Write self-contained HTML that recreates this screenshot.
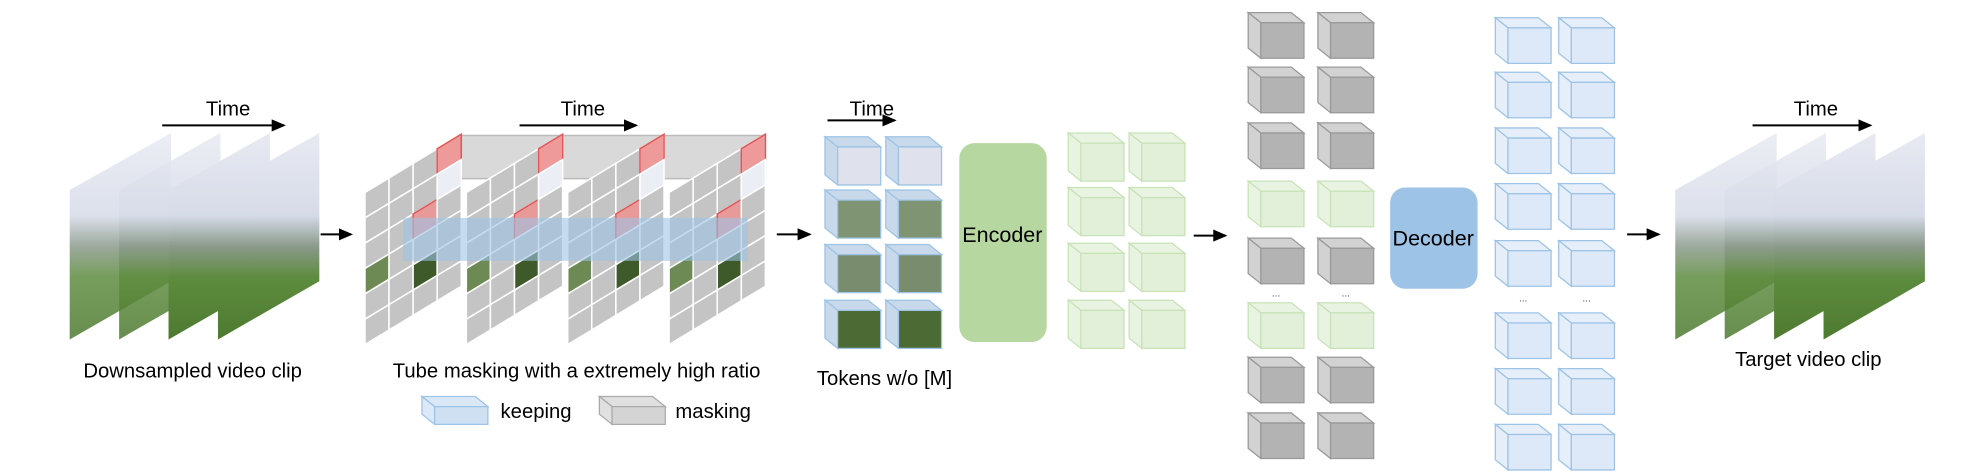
<!DOCTYPE html>
<html><head><meta charset="utf-8"><style>
body{margin:0;background:#fff;}
svg{display:block;font-family:"Liberation Sans",sans-serif;}
</style></head><body>
<svg id="s" width="1987" height="475" viewBox="0 0 1568 375" preserveAspectRatio="none" xmlns="http://www.w3.org/2000/svg">
<defs>
<linearGradient id="fr" x1="0" y1="0" x2="0" y2="1">
<stop offset="0" stop-color="#e8eaf2"/><stop offset="0.4" stop-color="#d6dbe8"/><stop offset="0.55" stop-color="#8a9a8a"/><stop offset="0.7" stop-color="#5e8c3e"/><stop offset="1" stop-color="#4d7a30"/>
</linearGradient>
<marker id="ah" markerWidth="8" markerHeight="8" refX="6" refY="4" orient="auto"><path d="M0,1 L7,4 L0,7 z" fill="#000"/></marker>
</defs>
<g id="g"></g>
<g font-size="16" fill="#000">
<text x="180" y="91" text-anchor="middle">Time</text>
<text x="460" y="91" text-anchor="middle">Time</text>
<text x="688" y="91" text-anchor="middle">Time</text>
<text x="1433" y="91" text-anchor="middle">Time</text>
<text x="152" y="298" text-anchor="middle">Downsampled video clip</text>
<text x="455" y="298" text-anchor="middle">Tube masking with a extremely high ratio</text>
<text x="698" y="304" text-anchor="middle">Tokens w/o [M]</text>
<text x="1427" y="289" text-anchor="middle">Target video clip</text>
<text x="395" y="330">keeping</text>
<text x="533" y="330">masking</text>
</g>
<g font-size="8" fill="#444" text-anchor="middle">
<text x="1007" y="234">...</text><text x="1062" y="234">...</text>
<text x="1202" y="238">...</text><text x="1252" y="238">...</text>
</g>
<g stroke="#000" stroke-width="1.6" marker-end="url(#ah)">
<line x1="128" y1="99" x2="224" y2="99"/>
<line x1="410" y1="99" x2="502" y2="99"/>
<line x1="653" y1="95" x2="706" y2="95"/>
<line x1="1383" y1="99" x2="1476" y2="99"/>
<line x1="253" y1="185" x2="277" y2="185"/>
<line x1="613" y1="185" x2="639" y2="185"/>
<line x1="942" y1="186" x2="967" y2="186"/>
<line x1="1284" y1="185" x2="1309" y2="185"/>
</g>
<rect x="757" y="113" width="69" height="157" rx="12" fill="#b7d7a0"/>
<text x="791" y="191" text-anchor="middle" font-size="17">Encoder</text>
<rect x="1097" y="148" width="69" height="80" rx="12" fill="#9dc3e6"/>
<text x="1131" y="194" text-anchor="middle" font-size="17">Decoder</text>
</svg>
<script>
var g=document.getElementById('g'),h='';
function poly(pts,f,s,sw,op){h+='<polygon points="'+pts.map(p=>p[0].toFixed(1)+','+p[1].toFixed(1)).join(' ')+'" fill="'+f+'" stroke="'+(s||'none')+'" stroke-width="'+(sw||1)+'"'+(op?' opacity="'+op+'"':'')+'/>';}
function frames(x0){for(var i=0;i<4;i++){var x=x0+i*39;poly([[x,150],[x+80,105],[x+80,222],[x,268]],'url(#fr)','none',1,i<2?0.85:1);}}
frames(55);frames(1322);
var cw=19,cd=11.5,rh=20;
poly([[364,107],[604,107],[604,141],[364,141]],'#d9d9d9','#bbb',1.2);
for(var s=0;s<4;s++){var x0=288+s*80,yt=152;
for(var c=0;c<4;c++)for(var r=0;r<6;r++){var x=x0+c*cw,y=yt+r*rh-c*cd;var f='#c4c4c4';
if(c==3&&r==0)f='#ee9a9a';else if(c==3&&r==1)f='#eceef6';else if(c==0&&r==3)f='#6d8a55';else if(c==2&&r==4)f='#3f5a2a';else if(c==2&&r==2)f='#e89a9a';
poly([[x,y],[x+cw,y-cd],[x+cw,y-cd+rh],[x,y+rh]],f,'#fff',1.2);
if(f=='#ee9a9a'||f=='#e89a9a')poly([[x,y],[x+cw,y-cd],[x+cw,y-cd+rh],[x,y+rh]],'none','#e05555',1.2);}}
poly([[318,172],[590,172],[590,206],[318,206]],'#9dc3e6','none',1,0.6);
function cube(x,y,w,hh,front,top,st){var d=10,e=8;
poly([[x,y],[x+w-d,y],[x+w,y+e],[x+d,y+e]],top,st,1);
poly([[x,y],[x+d,y+e],[x+d,y+hh],[x,y+hh-e]],top,st,1);
poly([[x+d,y+e],[x+w,y+e],[x+w,y+hh],[x+d,y+hh]],front,st,1);}
cube(333,313,52,22,'#cfe0f3','#dbe8f7','#9dc3e6');
cube(473,313,52,22,'#d4d4d4','#e0e0e0','#aaa');
var ty=[108,150,193,237],tc=['#dfe2ec','#7f9472','#7a8c6e','#4c6a34'];
for(var r=0;r<4;r++)for(var c=0;c<2;c++)cube(651+c*48,ty[r],44,38,tc[r],'#c7d9ea','#9dc3e6');
for(var r=0;r<4;r++)for(var c=0;c<2;c++)cube(843+c*48,[105,148,192,237][r],44,38,'#e2f0da','#e8f4e1','#c8e2b8');
var my=[10,53,97,143,188,239,282,326],mt=['g','g','g','n','g','n','g','g'];
for(var r=0;r<8;r++)for(var c=0;c<2;c++){if(mt[r]=='g')cube(985+c*55,my[r],44,36,'#b3b3b3','#d2d2d2','#999');else cube(985+c*55,my[r],44,36,'#e2f0da','#e8f4e1','#c8e2b8');}
var by=[14,57,101,145,190,247,291,335];
for(var r=0;r<8;r++)for(var c=0;c<2;c++)cube(1180+c*50,by[r],44,36,'#dde9f8','#e6eefa','#9dc3e6');
g.innerHTML=h;
</script>
</body></html>
